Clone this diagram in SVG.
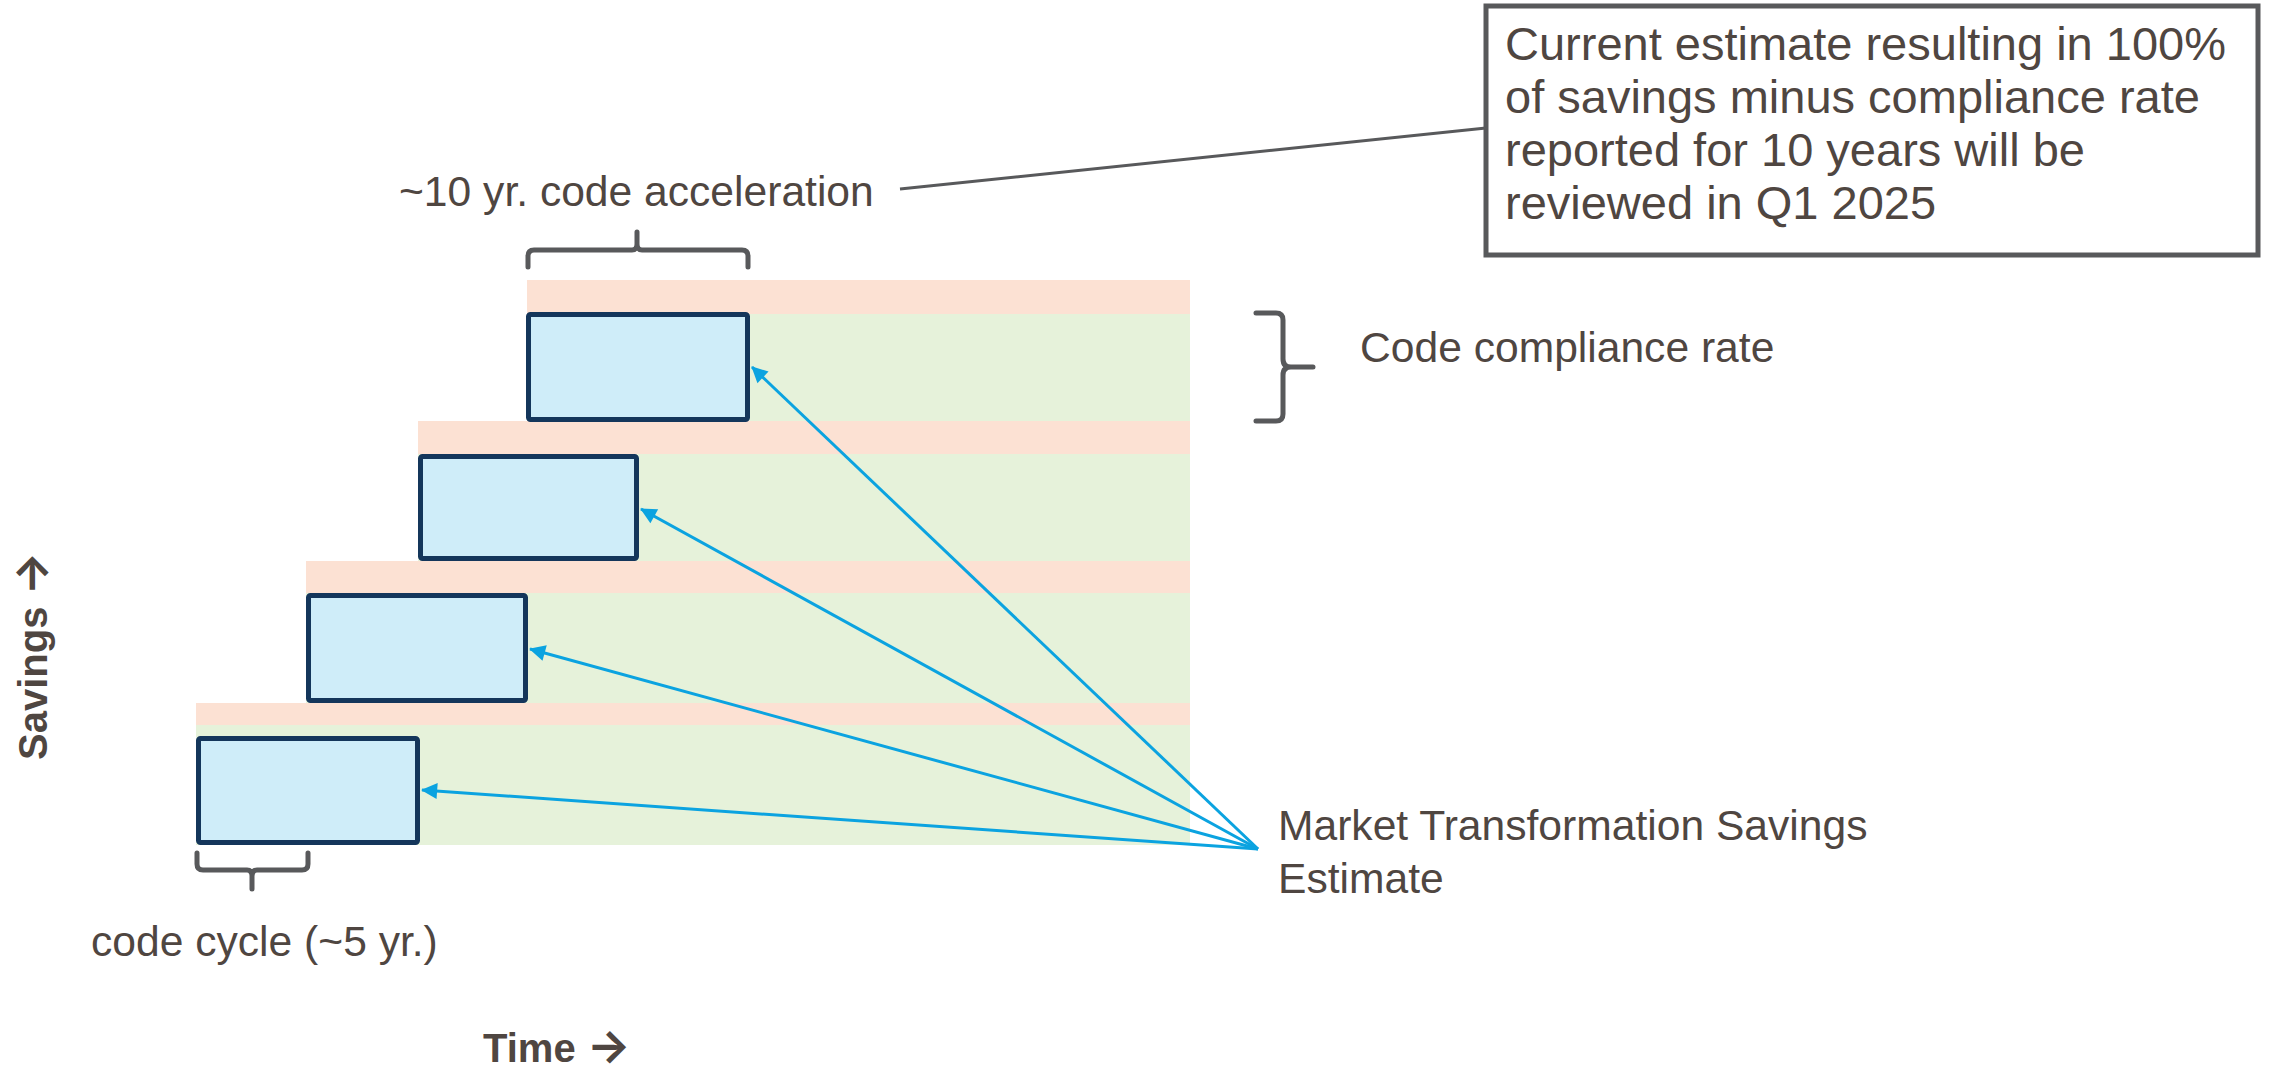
<svg xmlns="http://www.w3.org/2000/svg" width="2275" height="1069" viewBox="0 0 2275 1069">
<defs>
<style>
.peach{fill:#fce1d3}
.green{fill:#e6f2da}
.box{fill:#cfedf9;stroke:#14365b;stroke-width:5}
.brace{fill:none;stroke:#58595b;stroke-width:5;stroke-linejoin:round;stroke-linecap:round}
.lbl{font-family:"Liberation Sans",Arial,sans-serif;font-size:42.6px;fill:#4f4641}
.call{font-family:"Liberation Sans",Arial,sans-serif;font-size:47px;fill:#4f4641}
.axis{font-family:"Liberation Sans",Arial,sans-serif;font-size:40px;font-weight:bold;fill:#4f4641}
.ar{font-family:Inter,"DejaVu Sans",sans-serif;font-weight:bold;font-size:46px}
.arr{stroke:#0ba3e0;stroke-width:3;fill:none;marker-end:url(#ah)}
</style>
<marker id="ah" viewBox="0 0 10 10" refX="9" refY="5" markerWidth="7" markerHeight="7" markerUnits="userSpaceOnUse" orient="auto" style="overflow:visible">
<path d="M0,0 L10,5 L0,10 Z" fill="#0ba3e0" transform="scale(2.3) translate(-5.5,-2.8)"/>
</marker>
</defs>
<rect width="2275" height="1069" fill="#ffffff"/>
<g id="bands">
<rect class="green" x="527" y="313" width="663" height="532"/>
<rect class="green" x="418" y="453" width="772" height="392"/>
<rect class="green" x="306" y="592" width="884" height="253"/>
<rect class="green" x="196" y="724" width="994" height="121"/>
<rect class="peach" x="527" y="280" width="663" height="34"/>
<rect class="peach" x="418" y="421" width="772" height="33"/>
<rect class="peach" x="306" y="561" width="884" height="32"/>
<rect class="peach" x="196" y="703" width="994" height="22"/>
</g>
<g id="box1"><rect class="box" x="528.5" y="314.5" width="219" height="105" rx="2"/></g>
<g id="box2"><rect class="box" x="420.5" y="456.5" width="216" height="102" rx="2"/></g>
<g id="box3"><rect class="box" x="308.5" y="595.5" width="217" height="105" rx="2"/></g>
<g id="box4"><rect class="box" x="198.5" y="738.5" width="219" height="104" rx="2"/></g>
<g id="braces">
<path class="brace" d="M528,267 L528,256 Q528,250 534,250 L632,250 Q637,250 637,244 L637,232 M637,244 Q637,250 642,250 L742,250 Q748,250 748,256 L748,267"/>
<path class="brace" d="M197,853 L197,864 Q197,870 203,870 L247,870 Q252,870 252,876 L252,889 M252,876 Q252,870 257,870 L302,870 Q308,870 308,864 L308,853"/>
<path class="brace" d="M1256,313 L1276,313 Q1283,313 1283,320 L1283,359 Q1283,367 1291,367 L1313,367 M1291,367 Q1283,367 1283,375 L1283,414 Q1283,421 1276,421 L1256,421"/>
</g>
<g id="callout">
<rect x="1486" y="6" width="772" height="249" fill="#ffffff" stroke="#58595b" stroke-width="5"/>
<text class="call" x="1505" y="60">Current estimate resulting in 100%</text>
<text class="call" x="1505" y="113">of savings minus compliance rate</text>
<text class="call" x="1505" y="166">reported for 10 years will be</text>
<text class="call" x="1505" y="219">reviewed in Q1 2025</text>
</g>
<g id="labels">
<text class="lbl" x="399" y="206">~10 yr. code acceleration</text>
<text class="lbl" x="1360" y="362">Code compliance rate</text>
<text class="lbl" x="1278" y="840">Market Transformation Savings</text>
<text class="lbl" x="1278" y="893">Estimate</text>
<text class="lbl" x="91" y="956">code cycle (~5 yr.)</text>
<text class="axis" x="483" y="1062">Time <tspan class="ar">→</tspan></text>
<text class="axis" transform="translate(47,760) rotate(-90)">Savings <tspan class="ar">→</tspan></text>
</g>
<g id="connectors">
<line x1="900" y1="189" x2="1486" y2="128" stroke="#58595b" stroke-width="3"/>
<line class="arr" x1="1258" y1="849" x2="422" y2="790"/>
<line class="arr" x1="1258" y1="849" x2="530" y2="649"/>
<line class="arr" x1="1258" y1="849" x2="641" y2="509"/>
<line class="arr" x1="1258" y1="849" x2="752" y2="367"/>
</g>
</svg>
